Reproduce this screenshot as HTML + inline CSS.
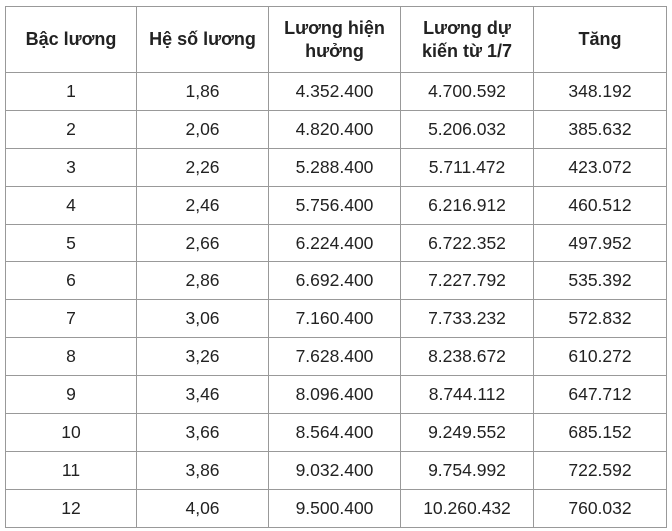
<!DOCTYPE html>
<html><head><style>
html,body{margin:0;padding:0;background:#fff;width:672px;height:531px;overflow:hidden}
table{position:absolute;left:5px;top:6px;border-collapse:collapse;font-family:"Liberation Sans",Arial,sans-serif;color:#222;font-size:17.5px}
td,th{border:1px solid #999;text-align:center;padding:0;vertical-align:middle}
th{font-weight:bold;height:65px;line-height:23px;font-size:18px}
td{height:36.9px}
</style></head><body>
<table>
<colgroup><col style="width:131px"><col style="width:132px"><col style="width:132px"><col style="width:133px"><col style="width:133px"></colgroup>
<tr><th>Bậc lương</th><th>Hệ số lương</th><th>Lương hiện<br>hưởng</th><th>Lương dự<br>kiến từ 1/7</th><th>Tăng</th></tr>
<tr><td>1</td><td>1,86</td><td>4.352.400</td><td>4.700.592</td><td>348.192</td></tr>
<tr><td>2</td><td>2,06</td><td>4.820.400</td><td>5.206.032</td><td>385.632</td></tr>
<tr><td>3</td><td>2,26</td><td>5.288.400</td><td>5.711.472</td><td>423.072</td></tr>
<tr><td>4</td><td>2,46</td><td>5.756.400</td><td>6.216.912</td><td>460.512</td></tr>
<tr><td>5</td><td>2,66</td><td>6.224.400</td><td>6.722.352</td><td>497.952</td></tr>
<tr><td>6</td><td>2,86</td><td>6.692.400</td><td>7.227.792</td><td>535.392</td></tr>
<tr><td>7</td><td>3,06</td><td>7.160.400</td><td>7.733.232</td><td>572.832</td></tr>
<tr><td>8</td><td>3,26</td><td>7.628.400</td><td>8.238.672</td><td>610.272</td></tr>
<tr><td>9</td><td>3,46</td><td>8.096.400</td><td>8.744.112</td><td>647.712</td></tr>
<tr><td>10</td><td>3,66</td><td>8.564.400</td><td>9.249.552</td><td>685.152</td></tr>
<tr><td>11</td><td>3,86</td><td>9.032.400</td><td>9.754.992</td><td>722.592</td></tr>
<tr><td>12</td><td>4,06</td><td>9.500.400</td><td>10.260.432</td><td>760.032</td></tr>
</table>
</body></html>
